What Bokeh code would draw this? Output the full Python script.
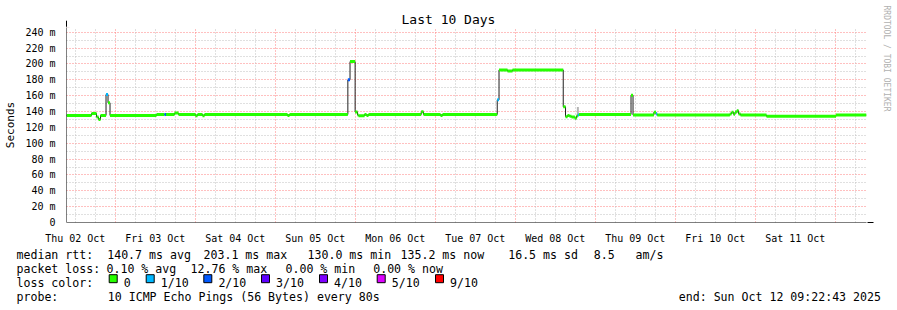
from datetime import datetime, timedelta
from math import pi

from bokeh.plotting import figure
from bokeh.layouts import column, row
from bokeh.models import (Range1d, FixedTicker, DatetimeTickFormatter, Grid, Arrow, NormalHead)
from bokeh.embed import file_html
from bokeh.resources import INLINE
from bokeh.core.properties import value

# ---------------- data ----------------
END_TIME = "2025-10-12 09:22:43"
SPAN_DAYS = 10

# median RTT steps (start time, median in ms, loss class index)
step_time = [
    "2025-10-02 09:23", "2025-10-02 16:53", "2025-10-02 18:23", "2025-10-02 18:59",
    "2025-10-02 19:35", "2025-10-02 21:14", "2025-10-02 21:50", "2025-10-02 22:26",
    "2025-10-03 12:23", "2025-10-03 14:47", "2025-10-03 15:14", "2025-10-03 17:47",
    "2025-10-03 18:59", "2025-10-04 00:05", "2025-10-04 00:41", "2025-10-04 02:11",
    "2025-10-04 02:47", "2025-10-05 03:41", "2025-10-05 04:17", "2025-10-05 21:47",
    "2025-10-05 22:26", "2025-10-05 23:58", "2025-10-06 00:41", "2025-10-06 00:59",
    "2025-10-06 02:47", "2025-10-06 03:23", "2025-10-06 03:59", "2025-10-06 19:48",
    "2025-10-06 20:29", "2025-10-07 01:35", "2025-10-07 02:11", "2025-10-07 18:36",
    "2025-10-07 19:08", "2025-10-07 21:41", "2025-10-07 23:11", "2025-10-08 14:24",
    "2025-10-08 15:05", "2025-10-08 15:41", "2025-10-08 16:17", "2025-10-08 16:53",
    "2025-10-08 17:53", "2025-10-08 18:23", "2025-10-08 18:47", "2025-10-08 19:08",
    "2025-10-09 10:44", "2025-10-09 11:20", "2025-10-09 17:35", "2025-10-09 18:14",
    "2025-10-09 18:36", "2025-10-10 16:23", "2025-10-10 16:53", "2025-10-10 17:29",
    "2025-10-10 17:56", "2025-10-10 18:32", "2025-10-10 18:59", "2025-10-10 19:35",
    "2025-10-11 03:23", "2025-10-12 00:14",
]
step_median = [
    135.0, 137.5, 133.0, 130.0,
    135.0, 161.5, 151.0, 135.0,
    136.3, 136.3, 136.3, 138.0,
    136.3, 134.8, 136.3, 134.8,
    136.3, 135.0, 136.3, 180.0,
    203.0, 139.5, 135.5, 134.6,
    136.3, 135.0, 136.3, 139.6,
    136.3, 135.0, 136.3, 154.7,
    192.5, 191.0, 192.5, 146.0,
    133.5, 135.0, 134.0, 133.0,
    131.5, 134.5, 135.5, 136.3,
    160.5, 135.5, 139.0, 137.0,
    135.5, 137.0, 139.0, 136.5,
    139.5, 141.0, 137.0, 135.5,
    134.0, 135.5,
]
step_loss = [
    0, 0, 0, 0,
    0, 1, 0, 0,
    0, 2, 0, 0,
    0, 0, 0, 0,
    0, 0, 0, 2,
    0, 0, 0, 0,
    0, 0, 0, 0,
    0, 0, 0, 1,
    0, 0, 0, 0,
    0, 0, 0, 0,
    0, 0, 1, 0,
    0, 0, 0, 1,
    0, 0, 0, 0,
    0, 0, 0, 0,
    0, 0,
]

# ping spread ("smoke")
smoke_time = ["2025-10-08 18:47", "2025-10-09 18:10", "2025-10-10 18:40"]
smoke_low = [135.6, 136.0, 138.0]
smoke_high = [145.7, 139.0, 142.5]

loss_labels = ["0", "1/10", "2/10", "3/10", "4/10", "5/10", "9/10"]
loss_colors = ["#26ff00", "#00b8ff", "#0059ff", "#5e00ff", "#7e00ff", "#dd00ff", "#ff0000"]

y_ticks = [0, 20, 40, 60, 80, 100, 120, 140, 160, 180, 200, 220, 240]
y_tick_labels = ["0", "20 m", "40 m", "60 m", "80 m", "100 m", "120 m", "140 m",
                 "160 m", "180 m", "200 m", "220 m", "240 m"]

title_text = "Last 10 Days"
y_label = "Seconds"
watermark = "RRDTOOL / TOBI OETIKER"

rtt_label = "median rtt:"
rtt_stats = ["140.7 ms avg", "203.1 ms max", "130.0 ms min", "135.2 ms now", "16.5 ms sd", "8.5", "am/s"]
loss_label = "packet loss:"
loss_stats = ["0.10 % avg", "12.76 % max", "0.00 % min", "0.00 % now"]
color_label = "loss color:"
probe_label = "probe:"
probe_text = "10 ICMP Echo Pings (56 Bytes) every 80s"
end_text = "end: Sun Oct 12 09:22:43 2025"

# ---------------- helpers ----------------
FMT = "%Y-%m-%d %H:%M"
EPOCH = datetime(1970, 1, 1)


def ms(d):
    return (d - EPOCH).total_seconds() * 1000.0


end_dt = datetime.strptime(END_TIME, "%Y-%m-%d %H:%M:%S")
start_dt = end_dt - timedelta(days=SPAN_DAYS)
t = [datetime.strptime(s, FMT) for s in step_time]
t_next = t[1:] + [end_dt]
seg_colors = [loss_colors[i] for i in step_loss]

MONO = "DejaVu Sans Mono"
FS = "11.58px"

# page layout (pixels)
W, H = 897, 310
FL, FR, FT, FB = 66, 866, 27, 228     # plotting frame
CHART_W, CHART_H = 875, 246           # chart canvas (left part, top part)
Y_MAX = 246


def page_x(px):
    return ms(start_dt) + (px - FL) / (FR - FL) * (ms(end_dt) - ms(start_dt))


def page_y(py):
    return (FB - py) / (FB - FT) * Y_MAX


# ---------------- chart ----------------
p = figure(width=CHART_W, height=CHART_H, x_axis_type="datetime",
           x_range=Range1d(ms(start_dt), ms(end_dt)), y_range=Range1d(0, Y_MAX),
           output_backend="svg", toolbar_location=None,
           min_border_left=FL, min_border_right=CHART_W - FR, min_border_top=FT,
           min_border_bottom=CHART_H - FB)
p.frame_align = False
p.outline_line_color = None
p.background_fill_color = "white"
p.border_fill_color = "white"

p.title.text = title_text
p.title.align = "left"
p.title.offset = 335
p.title.standoff = 1
p.title.text_font = MONO
p.title.text_font_size = "13px"
p.title.text_font_style = "normal"
p.title.text_color = "black"

# grids
first_mid = datetime(start_dt.year, start_dt.month, start_dt.day) + timedelta(days=1)
midnights = [ms(first_mid + timedelta(days=i)) for i in range(SPAN_DAYS)]
six_h = []
tt = datetime(start_dt.year, start_dt.month, start_dt.day, 12)
while tt < end_dt:
    if tt.hour != 0:
        six_h.append(ms(tt))
    tt += timedelta(hours=6)
noons = [ms(datetime(start_dt.year, start_dt.month, start_dt.day, 12) + timedelta(days=i))
         for i in range(SPAN_DAYS)]

MAJOR_GRID = "#ff8080"
MINOR_GRID = "#c0c0c0"
p.xgrid.ticker = FixedTicker(ticks=midnights)
p.xgrid.grid_line_color = MAJOR_GRID
p.xgrid.grid_line_dash = "1 2"
p.ygrid.ticker = FixedTicker(ticks=[v for v in y_ticks if v > 0])
p.ygrid.grid_line_color = MAJOR_GRID
p.ygrid.grid_line_dash = "1 2"
p.add_layout(Grid(dimension=0, ticker=FixedTicker(ticks=six_h),
                  grid_line_color=MINOR_GRID, grid_line_dash="1 2"))
p.add_layout(Grid(dimension=1, ticker=FixedTicker(ticks=[v + 10 for v in y_ticks[:-1]]),
                  grid_line_color=MINOR_GRID, grid_line_dash="1 2"))

# axes
xa = p.xaxis[0]
xa.ticker = FixedTicker(ticks=noons)
day_fmt = "%a %d %b"
xa.formatter = DatetimeTickFormatter(microseconds=day_fmt, milliseconds=day_fmt, seconds=day_fmt,
                                     minsec=day_fmt, minutes=day_fmt, hourmin=day_fmt,
                                     hours=day_fmt, days=day_fmt, months=day_fmt, years=day_fmt)
xa.major_tick_line_color = None
xa.minor_tick_line_color = None
xa.major_label_standoff = 4
xa.major_label_text_font = MONO
xa.major_label_text_font_size = "10px"
xa.major_label_text_color = "black"
xa.axis_line_color = None

ya = p.yaxis[0]
ya.ticker = FixedTicker(ticks=y_ticks)
ya.major_label_overrides = {v: s for v, s in zip(y_ticks, y_tick_labels)}
ya.major_tick_line_color = None
ya.minor_tick_line_color = None
ya.major_label_standoff = 5
ya.major_label_text_font = MONO
ya.major_label_text_font_size = "10px"
ya.major_label_text_color = "black"
ya.axis_line_color = None
ya.axis_label = y_label
ya.axis_label_text_font = MONO
ya.axis_label_text_font_size = "11px"
ya.axis_label_text_font_style = "normal"
ya.axis_label_text_color = "black"
ya.axis_label_standoff = 5

# axis lines with arrow heads
HEAD = "#7f1f1f"
p.add_layout(Arrow(x_start=page_x(62), y_start=0, x_end=page_x(873), y_end=0,
                   line_color="black", line_width=1,
                   end=NormalHead(size=6, fill_color=HEAD, line_color=HEAD)))
p.add_layout(Arrow(x_start=ms(start_dt), y_start=0, x_end=ms(start_dt), y_end=page_y(20),
                   line_color="black", line_width=1,
                   end=NormalHead(size=6, fill_color=HEAD, line_color=HEAD)))

# smoke
p.segment(x0=[ms(datetime.strptime(s, FMT)) for s in smoke_time], y0=smoke_low,
          x1=[ms(datetime.strptime(s, FMT)) for s in smoke_time], y1=smoke_high,
          line_color="#b4b4b4", line_width=2)

# median: thin dark line (transitions) + loss-coloured thick steps
p.step(x=[ms(d) for d in t] + [ms(end_dt)], y=step_median + [step_median[-1]],
       mode="after", line_color="#202020", line_width=1)
p.segment(x0=[ms(d) for d in t], x1=[ms(d) for d in t_next], y0=step_median, y1=step_median,
          line_color=seg_colors, line_width=3, line_cap="butt")


def blank(width, height, x0, x1, y0, y1):
    """Axis-less helper canvas whose data units are page pixels."""
    f = figure(width=width, height=height, x_range=Range1d(x0, x1), y_range=Range1d(y1, y0),
               output_backend="svg", toolbar_location=None,
               x_axis_location=None, y_axis_location=None,
               min_border_left=0, min_border_right=0, min_border_top=0, min_border_bottom=0)
    f.frame_align = False
    f.outline_line_color = None
    f.xgrid.visible = False
    f.ygrid.visible = False
    f.background_fill_color = "white"
    f.border_fill_color = "white"
    return f


# ---------------- watermark strip (right) ----------------
w = blank(W - CHART_W, CHART_H, CHART_W, W, 0, CHART_H)
w.text(x=[886], y=[5], text=[watermark], angle=-pi / 2, text_font=value(MONO),
       text_font_size="8px", text_color="#b0b0b0", text_align="left", text_baseline="middle")

# ---------------- legend block (below) ----------------
q = blank(W, H - CHART_H, 0, W, CHART_H, H)

ROWS = [254.0, 268.0, 282.0, 296.0]
tx, ty, tt_ = [], [], []
for txt, px in zip([rtt_label] + rtt_stats, [16, 106.7, 203, 307, 400, 507.7, 593.3, 635]):
    tx.append(px); ty.append(ROWS[0]); tt_.append(txt)
for txt, px in zip([loss_label] + loss_stats, [16, 106, 190, 285, 372.7]):
    tx.append(px); ty.append(ROWS[1]); tt_.append(txt)
sq_left = [108.7, 145.7, 203.3, 261.0, 319.0, 376.7, 435.0]
for txt, px in zip([color_label] + loss_labels, [16] + [s + 14.6 for s in sq_left]):
    tx.append(px); ty.append(ROWS[2]); tt_.append(txt)
for txt, px in zip([probe_label, probe_text, end_text], [16, 107.3, 678.3]):
    tx.append(px); ty.append(ROWS[3]); tt_.append(txt)

q.text(x=tx, y=ty, text=tt_, text_font=value(MONO), text_font_size=FS,
       text_color="black", text_baseline="alphabetic", text_align="left")
q.rect(x=[s + 4 for s in sq_left], y=[278.2] * len(sq_left), width=8, height=8,
       fill_color=loss_colors, line_color="black", line_width=1)

layout = column(row(p, w, spacing=0), q, spacing=0)
open("out.html", "w").write(file_html(layout, INLINE))
